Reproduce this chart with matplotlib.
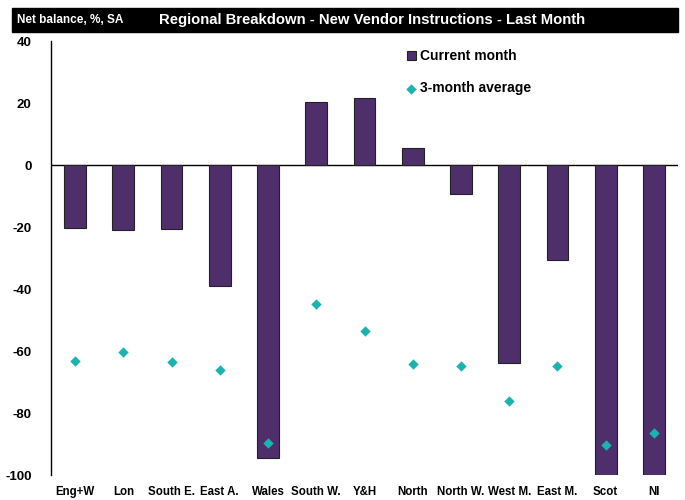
import matplotlib.pyplot as plt
import numpy as np
from matplotlib.patches import Rectangle

regions = ["Eng+W", "Lon", "South E.", "East A.", "Wales", "South W.", "Y&H",
           "North", "North W.", "West M.", "East M.", "Scot", "NI"]
current_month = [-20.3, -21.0, -20.6, -39.0, -94.5, 20.3, 21.6,
                 5.5, -9.4, -64.0, -30.6, -100.0, -100.0]
three_month_avg = [-63.2, -60.3, -63.5, -66.0, -89.7, -44.8, -53.5,
                   -64.2, -64.8, -76.0, -64.8, -90.3, -86.5]

plt.rcParams['font.family'] = ['Liberation Sans', 'DejaVu Sans']
plt.rcParams['font.weight'] = 'bold'
plt.rcParams['axes.unicode_minus'] = False

fig = plt.figure(figsize=(6.85, 5.0), dpi=100)
ax = fig.add_axes([51 / 685, 25 / 500, 627 / 685, 434 / 500])

x = np.arange(len(regions))
bars = ax.bar(x, current_month, width=0.45, color='#4e2f6c', edgecolor='#222222',
              linewidth=0.8, label='Current month', zorder=2)
pts = ax.scatter(x, three_month_avg, marker='D', s=28, color='#1bb3b0',
                 label='3-month average', zorder=3, linewidths=0)

ax.set_ylim(-100, 40)
ax.set_xlim(-0.5, len(regions) - 0.5)
ax.set_yticks(range(-100, 41, 20))
ax.set_xticks(x)
ax.set_xticklabels(regions)
ax.tick_params(axis='x', length=0, labelsize=8.3, pad=8)
ax.tick_params(axis='y', length=0, labelsize=9.5, pad=14)
for s in ['top', 'right', 'bottom']:
    ax.spines[s].set_visible(False)
ax.spines['left'].set_linewidth(1.0)
ax.axhline(0, color='black', linewidth=1.0, zorder=1)

ax.legend([bars, pts], ['Current month', '3-month average'],
          loc='upper left', bbox_to_anchor=(0.555, 1.0), frameon=False,
          fontsize=10, handlelength=0.6, handletextpad=0.3, labelspacing=1.3,
          borderaxespad=0.2, scatterpoints=1)

# black title bar
fig.patches.append(Rectangle((12 / 685, 1 - 32 / 500), 666 / 685, 24 / 500,
                             transform=fig.transFigure, color='black', zorder=0))
fig.text(17 / 685, 1 - 20 / 500, "Net balance, %, SA", color='white',
         fontsize=8.5, va='center', ha='left')
fig.text(159 / 685, 1 - 20 / 500,
         "Regional Breakdown - New Vendor Instructions - Last Month",
         color='white', fontsize=10.7, va='center', ha='left')

fig.savefig('out.png', dpi=100)
